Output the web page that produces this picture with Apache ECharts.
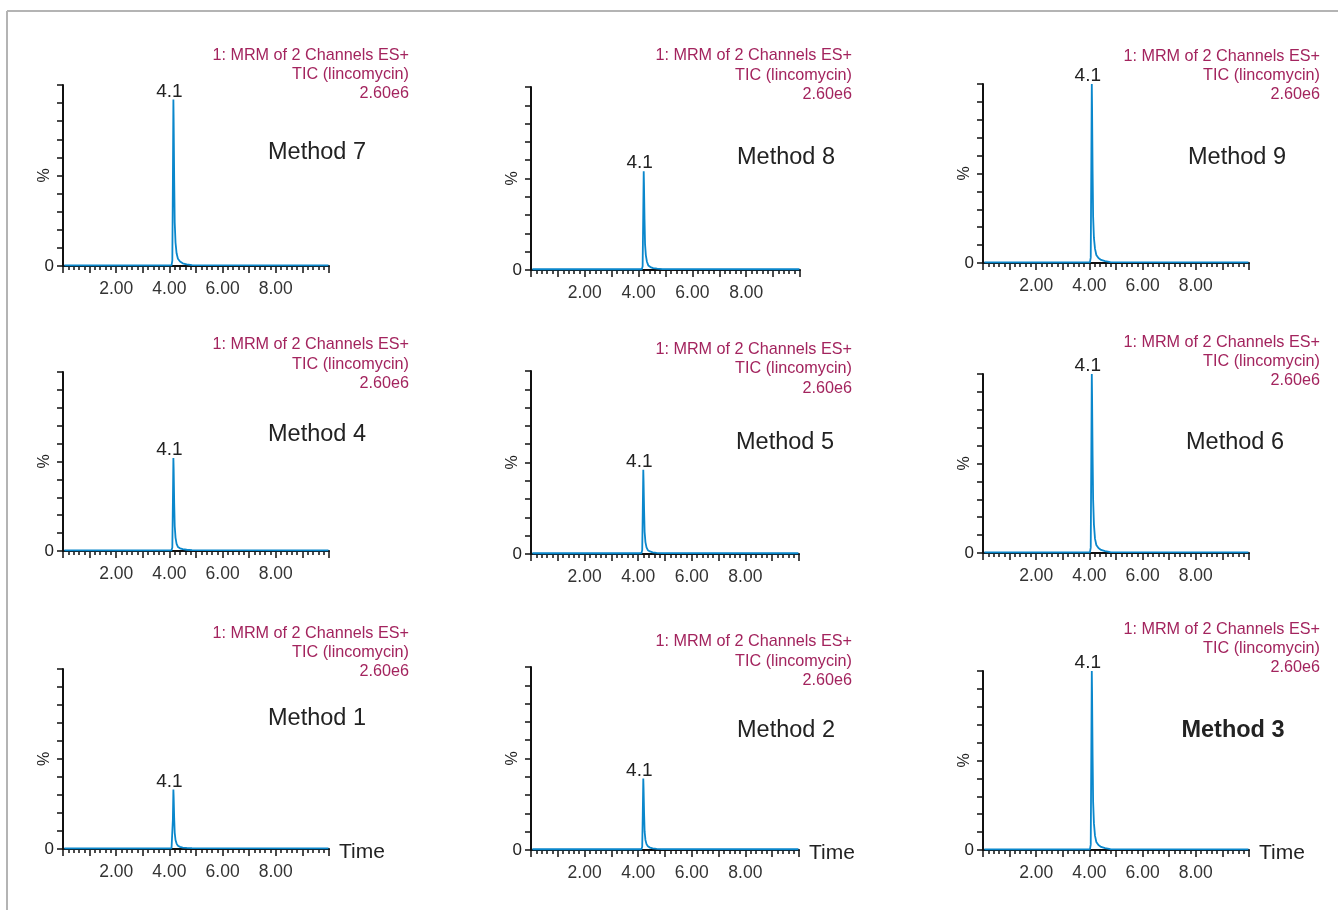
<!DOCTYPE html>
<html>
<head>
<meta charset="utf-8">
<script src="https://cdn.jsdelivr.net/npm/echarts@6/dist/echarts.min.js"></script>
<style>
html,body{margin:0;padding:0;background:#fff;}
#chart{width:1338px;height:910px;}
</style>
</head>
<body>
<div id="chart"></div>
<script>
// ---------- DATA ----------
const methodNames = ['Method 7','Method 8','Method 9','Method 4','Method 5','Method 6','Method 1','Method 2','Method 3'];
const headerLines = ['1: MRM of 2 Channels ES+','TIC (lincomycin)','2.60e6'];
const peakLabels = ['4.1','4.1','4.1','4.1','4.1','4.1','4.1','4.1','4.1'];
const xTickLabels = [2, 4, 6, 8];

// retention-time samples (min) for each column of panels
const timeCol1 = [0.05, 4.08, 4.11, 4.13, 4.15, 4.16, 4.18, 4.20, 4.23, 4.27, 4.32, 4.40, 4.50, 4.65, 4.85, 9.98];
const timeCol2 = [0.05, 4.12, 4.15, 4.17, 4.19, 4.20, 4.22, 4.24, 4.27, 4.31, 4.36, 4.44, 4.54, 4.69, 4.89, 9.98];
const timeCol3 = [0.05, 4.02, 4.05, 4.07, 4.09, 4.10, 4.12, 4.14, 4.17, 4.21, 4.26, 4.34, 4.44, 4.59, 4.79, 9.98];

// relative intensity (%) for each method
const m7 = [0.4, 0.4, 3.0, 45, 92, 80, 48, 24, 13, 7.0, 4.0, 2.5, 1.5, 0.9, 0.5, 0.4];
const m8 = [0.4, 0.4, 2.0, 27, 54, 47, 28, 14, 8.0, 4.5, 2.5, 1.6, 1.0, 0.7, 0.5, 0.4];
const m9 = [0.4, 0.4, 3.0, 50, 100, 87, 52, 26, 14, 8.0, 4.5, 2.8, 1.7, 1.0, 0.5, 0.4];
const m4 = [0.4, 0.4, 2.0, 26, 52, 46, 27, 14, 7.5, 4.0, 2.3, 1.5, 1.0, 0.7, 0.5, 0.4];
const m5 = [0.4, 0.4, 2.0, 23, 46, 40, 24, 12, 6.5, 3.6, 2.1, 1.4, 0.9, 0.6, 0.5, 0.4];
const m6 = [0.4, 0.4, 3.0, 50, 100, 88, 55, 30, 16, 8.0, 4.5, 2.8, 1.7, 1.0, 0.5, 0.4];
const m1 = [0.4, 0.4, 1.5, 16, 33, 29, 17, 9.0, 5.0, 3.0, 1.8, 1.2, 0.8, 0.6, 0.5, 0.4];
const m2 = [0.4, 0.4, 1.8, 19, 39, 34, 20, 10, 5.5, 3.2, 2.0, 1.3, 0.9, 0.6, 0.5, 0.4];
const m3 = [0.4, 0.4, 3.0, 50, 100, 88, 53, 27, 15, 8.0, 4.5, 2.8, 1.7, 1.0, 0.5, 0.4];

const traceTimes = [timeCol1, timeCol2, timeCol3, timeCol1, timeCol2, timeCol3, timeCol1, timeCol2, timeCol3];
const traceValues = [m7, m8, m9, m4, m5, m6, m1, m2, m3];

// ---------- LAYOUT (pixels) ----------
const panels = [
  {left:63,  top:85,  width:266, height:181, hdr:[54,73,92],    hdrX:409,  mx:317,  my:151, bottom:false},
  {left:531, top:87,  width:269, height:183, hdr:[54,74,93],    hdrX:852,  mx:786,  my:156, bottom:false},
  {left:983, top:84,  width:266, height:179, hdr:[55,74,93],    hdrX:1320, mx:1237, my:156, bottom:false},
  {left:63,  top:372, width:266, height:179, hdr:[343,363,382], hdrX:409,  mx:317,  my:433, bottom:false},
  {left:531, top:371, width:268, height:183, hdr:[348,367,387], hdrX:852,  mx:785,  my:441, bottom:false},
  {left:983, top:374, width:266, height:179, hdr:[341,360,379], hdrX:1320, mx:1235, my:441, bottom:false},
  {left:63,  top:669, width:266, height:180, hdr:[632,651,670], hdrX:409,  mx:317,  my:717, bottom:true},
  {left:531, top:667, width:268, height:183, hdr:[640,660,679], hdrX:852,  mx:786,  my:729, bottom:true},
  {left:983, top:671, width:266, height:179, hdr:[628,647,666], hdrX:1320, mx:1233, my:729, bottom:true}
];

const FONT = '"Liberation Sans", Arial, Helvetica, sans-serif';
const BLUE = '#0a87cc';
const MAGENTA = '#a3245e';
const DARK = '#222222';

const grids = [], xAxes = [], yAxes = [], series = [], graphics = [];

panels.forEach((p, i) => {
  grids.push({left:p.left, top:p.top, width:p.width, height:p.height, containLabel:false});
  xAxes.push({
    type:'value', gridIndex:i, min:0, max:10, interval:1,
    name: p.bottom ? 'Time' : '',
    nameLocation:'end', nameGap:10,
    nameTextStyle:{fontFamily:FONT, fontSize:21, color:DARK, verticalAlign:'top', lineHeight:6},
    axisLine:{show:true, onZero:false, lineStyle:{color:'#111', width:2}},
    axisTick:{show:true, inside:false, length:7, lineStyle:{color:'#111', width:1.5}},
    minorTick:{show:true, splitNumber:5, length:4, lineStyle:{color:'#111', width:1.5}},
    splitLine:{show:false}, minorSplitLine:{show:false},
    axisLabel:{
      show:true, margin:14, fontFamily:FONT, fontSize:17.5, color:'#333',
      formatter:(v)=> xTickLabels.includes(v) ? v.toFixed(2) : ''
    }
  });
  yAxes.push({
    type:'value', gridIndex:i, min:0, max:100, interval:10,
    name:'%', nameLocation:'middle', nameRotate:90, nameGap:10, nameMoveOverlap:false,
    nameTextStyle:{fontFamily:FONT, fontSize:16, color:DARK},
    axisLine:{show:true, lineStyle:{color:'#111', width:2}},
    axisTick:{show:true, inside:false, length:6, lineStyle:{color:'#111', width:1.5}},
    splitLine:{show:false},
    axisLabel:{
      show:true, margin:9, fontFamily:FONT, fontSize:17, color:DARK,
      formatter:(v)=> v === 0 ? '0' : ''
    }
  });
  const t = traceTimes[i], v = traceValues[i];
  series.push({
    type:'line', xAxisIndex:i, yAxisIndex:i,
    data: t.map((x, k) => [x, v[k]]),
    symbol:'none', showSymbol:false, smooth:false, z:3,
    lineStyle:{color:BLUE, width:1.8},
    animation:false,
    markPoint:{
      symbol:'circle', symbolSize:1,
      itemStyle:{color:'rgba(0,0,0,0)'},
      data:[{type:'max', valueDim:'y'}],
      label:{show:true, position:'top', distance:0, offset:[-4,2],
             formatter:()=>peakLabels[i], fontFamily:FONT, fontSize:19, color:DARK},
      animation:false
    }
  });
  headerLines.forEach((txt, k) => {
    graphics.push({type:'text', x:p.hdrX, y:p.hdr[k] + 2, style:{
      text:txt, fill:MAGENTA, font:'16.2px ' + FONT, textAlign:'right', textVerticalAlign:'middle'
    }});
  });
  graphics.push({type:'text', x:p.mx, y:p.my + 2, style:{
    text:methodNames[i], fill:DARK,
    font:(methodNames[i] === 'Method 3' ? 'bold ' : '') + '23.5px ' + FONT,
    textAlign:'center', textVerticalAlign:'middle'
  }});
});

// frame (top and left border of the figure)
graphics.push({type:'line', shape:{x1:7, y1:11, x2:1338, y2:11}, style:{stroke:'#b4b4b4', lineWidth:2}});
graphics.push({type:'line', shape:{x1:7, y1:11, x2:7, y2:910}, style:{stroke:'#b4b4b4', lineWidth:2}});

const chart = echarts.init(document.getElementById('chart'), null, {renderer:'canvas'});
chart.setOption({
  animation:false,
  backgroundColor:'#ffffff',
  grid:grids, xAxis:xAxes, yAxis:yAxes, series:series, graphic:graphics
});
</script>
</body>
</html>
